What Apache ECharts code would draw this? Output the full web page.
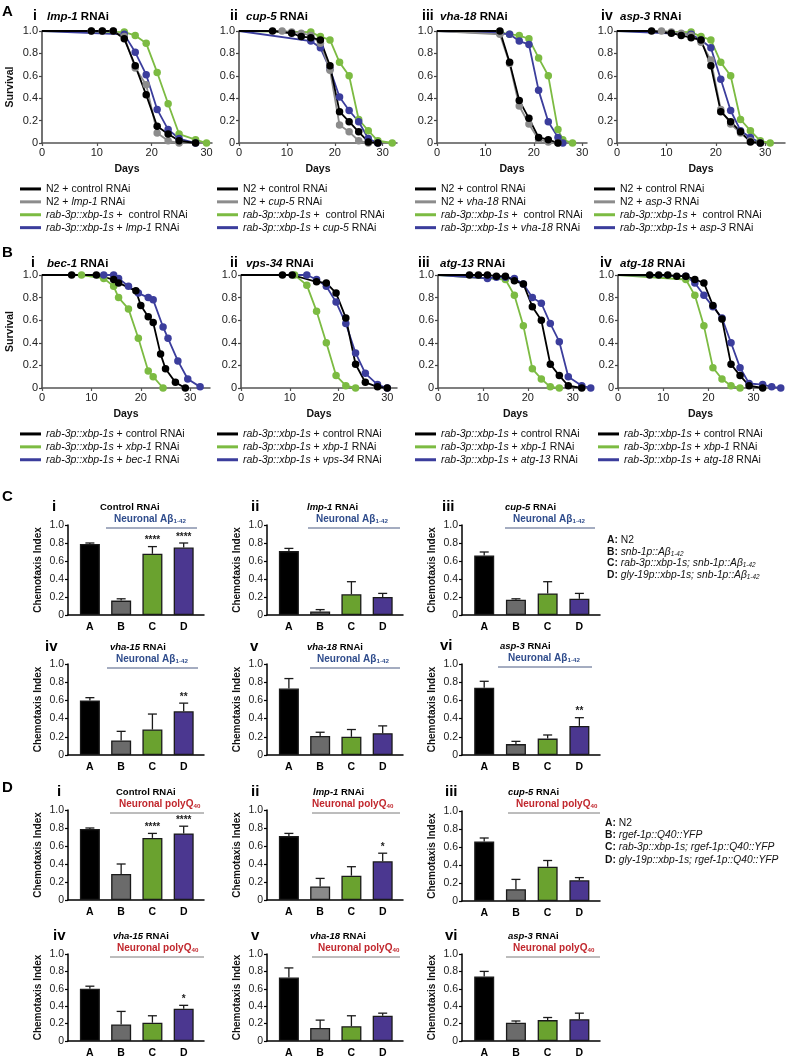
<!DOCTYPE html>
<html>
<head>
<meta charset="utf-8">
<title>xbp-1s survival and chemotaxis</title>
<script src="https://cdn.jsdelivr.net/npm/echarts@6.0.0/dist/echarts.min.js"></script>
<style>
  html, body { margin: 0; padding: 0; background: #fff; }
  #chart { width: 789px; height: 1059px; }
</style>
</head>
<body>
<div id="chart"></div>
<script>
var FONT = '"Liberation Sans", Arial, Helvetica, sans-serif';

// ---------- survival curves, [day, fraction alive] ----------
// A i  lmp-1
var Ai_n2Ctrl  = [[0,1],[9,1],[11,1],[13,1],[15,0.93],[17,0.69],[19,0.43],[21,0.15],[23,0.08],[25,0.02],[28,0]];
var Ai_n2Rnai  = [[0,1],[9,1],[11,1],[13,1],[15,0.95],[17,0.67],[19,0.52],[21,0.09],[23,0.02],[25,0]];
var Ai_xbpCtrl = [[0,1],[15,0.99],[17,0.96],[19,0.89],[21,0.63],[23,0.35],[25,0.08],[28,0.03],[30,0]];
var Ai_xbpRnai = [[0,1],[15,0.97],[17,0.81],[19,0.61],[21,0.30],[23,0.12],[25,0.04],[28,0]];
// A ii  cup-5
var Aii_n2Ctrl  = [[0,1],[7,1],[11,0.98],[13,0.95],[15,0.94],[17,0.92],[19,0.69],[21,0.28],[23,0.19],[25,0.10],[27,0.01],[29,0]];
var Aii_n2Rnai  = [[0,1],[9,1],[11,0.99],[13,0.98],[15,0.96],[17,0.89],[19,0.65],[21,0.16],[23,0.10],[25,0.02],[27,0]];
var Aii_xbpCtrl = [[0,1],[15,0.99],[17,0.95],[19,0.92],[21,0.72],[23,0.60],[25,0.21],[27,0.11],[29,0.02],[32,0]];
var Aii_xbpRnai = [[0,1],[15,0.91],[17,0.85],[19,0.66],[21,0.41],[23,0.29],[25,0.19],[27,0.04],[29,0]];
// A iii  vha-18
var Aiii_n2Ctrl  = [[0,1],[13,1],[15,0.72],[17,0.38],[19,0.22],[21,0.05],[23,0.03],[25,0]];
var Aiii_n2Rnai  = [[0,1],[13,0.97],[15,0.71],[17,0.33],[19,0.17],[21,0.03],[23,0.01],[25,0]];
var Aiii_xbpCtrl = [[0,1],[13,0.99],[15,0.97],[17,0.96],[19,0.93],[21,0.76],[23,0.60],[25,0.12],[26,0.03],[28,0]];
var Aiii_xbpRnai = [[0,1],[13,0.98],[15,0.97],[17,0.91],[19,0.88],[21,0.47],[23,0.19],[25,0.05],[26,0]];
// A iv  asp-3
var Aiv_n2Ctrl  = [[0,1],[7,1],[11,0.98],[13,0.96],[15,0.94],[17,0.92],[19,0.69],[21,0.28],[23,0.19],[25,0.10],[27,0.01],[29,0]];
var Aiv_n2Rnai  = [[0,1],[9,1],[11,0.99],[13,0.98],[15,0.96],[17,0.90],[19,0.74],[21,0.30],[23,0.17],[25,0.09],[27,0.02],[29,0]];
var Aiv_xbpCtrl = [[0,1],[15,0.99],[17,0.95],[19,0.92],[21,0.72],[23,0.60],[25,0.21],[27,0.11],[29,0.02],[31,0]];
var Aiv_xbpRnai = [[0,1],[15,0.97],[17,0.92],[19,0.85],[21,0.57],[23,0.29],[25,0.11],[27,0.05],[29,0]];

// B i  bec-1
var Bi_ctrl = [[0,1],[6,1],[11,1],[14.5,0.96],[15.5,0.93],[19,0.86],[20,0.73],[21.5,0.63],[22.5,0.58],[24,0.30],[25,0.17],[27,0.05],[29,0]];
var Bi_xbp1 = [[0,1],[8,1],[12.5,0.97],[14.5,0.90],[15.5,0.80],[17.5,0.70],[19.5,0.44],[21.5,0.15],[22.5,0.10],[24.5,0]];
var Bi_rnai = [[0,1],[12.5,1],[14.5,1],[15.5,0.97],[17.5,0.90],[19.5,0.84],[21.5,0.80],[22.5,0.78],[24.5,0.54],[25.5,0.44],[27.5,0.24],[29.5,0.08],[32,0.01]];
// B ii  vps-34
var Bii_ctrl = [[0,1],[8.5,1],[10.5,1],[15.5,0.94],[17.5,0.93],[19.5,0.84],[21.5,0.62],[23.5,0.21],[25.5,0.05],[28,0.01],[30,0]];
var Bii_xbp1 = [[0,1],[11,1],[13.5,0.91],[15.5,0.68],[17.5,0.40],[19.5,0.11],[21.5,0.02],[23.5,0]];
var Bii_rnai = [[0,1],[13.5,1],[15.5,0.96],[17.5,0.90],[19.5,0.76],[21.5,0.57],[23.5,0.31],[25.5,0.13],[28,0.03],[30,0]];
// B iii  atg-13
var Biii_ctrl = [[0,1],[7,1],[9,1],[11,1],[13,0.99],[15,0.99],[17,0.95],[19,0.92],[21,0.72],[23,0.60],[25,0.21],[27,0.11],[29,0.02],[32,0]];
var Biii_xbp1 = [[0,1],[15,0.96],[17,0.82],[19,0.55],[21,0.17],[23,0.08],[25,0.01],[27,0]];
var Biii_rnai = [[0,1],[11,0.97],[13,0.98],[15,0.98],[17,0.97],[19,0.92],[21,0.80],[23,0.75],[25,0.57],[27,0.41],[29,0.10],[32,0.02],[34,0]];
// B iv  atg-18
var Biv_ctrl = [[0,1],[7,1],[9,1],[11,1],[13,0.99],[15,0.99],[17,0.96],[19,0.93],[21,0.73],[23,0.61],[25,0.21],[27,0.11],[29,0.02],[32,0]];
var Biv_xbp1 = [[0,1],[15,0.96],[17,0.82],[19,0.55],[21,0.18],[23,0.08],[25,0.02],[27,0]];
var Biv_rnai = [[0,1],[15,0.99],[17,0.93],[19,0.82],[21,0.72],[23,0.62],[25,0.40],[27,0.18],[29,0.04],[32,0.03],[34,0.01],[36,0]];

var dayTicks = [0, 10, 20, 30];

// ---------- chemotaxis index, mean / SEM / significance ----------
var groups = ['A', 'B', 'C', 'D'];
var Ci_mean = [0.79, 0.16, 0.68, 0.75],  Ci_sem = [0.01, 0.02, 0.08, 0.05],  Ci_sig = ['', '', '****', '****'];
var Cii_mean = [0.71, 0.04, 0.23, 0.20], Cii_sem = [0.03, 0.02, 0.14, 0.04], Cii_sig = ['', '', '', ''];
var Ciii_mean = [0.66, 0.17, 0.24, 0.18], Ciii_sem = [0.04, 0.01, 0.13, 0.06], Ciii_sig = ['', '', '', ''];
var Civ_mean = [0.60, 0.16, 0.28, 0.48], Civ_sem = [0.03, 0.10, 0.17, 0.09], Civ_sig = ['', '', '', '**'];
var Cv_mean = [0.73, 0.21, 0.20, 0.24],  Cv_sem = [0.11, 0.04, 0.08, 0.08],  Cv_sig = ['', '', '', ''];
var Cvi_mean = [0.74, 0.12, 0.18, 0.32], Cvi_sem = [0.07, 0.03, 0.04, 0.09], Cvi_sig = ['', '', '', '**'];

var Di_mean = [0.79, 0.29, 0.69, 0.74],  Di_sem = [0.01, 0.11, 0.05, 0.08],  Di_sig = ['', '', '****', '****'];
var Dii_mean = [0.71, 0.15, 0.27, 0.43], Dii_sem = [0.03, 0.09, 0.10, 0.09], Dii_sig = ['', '', '', '*'];
var Diii_mean = [0.66, 0.13, 0.38, 0.23], Diii_sem = [0.04, 0.11, 0.07, 0.03], Diii_sig = ['', '', '', ''];
var Div_mean = [0.60, 0.19, 0.21, 0.37], Div_sem = [0.03, 0.15, 0.08, 0.04], Div_sig = ['', '', '', '*'];
var Dv_mean = [0.73, 0.15, 0.17, 0.29],  Dv_sem = [0.11, 0.09, 0.12, 0.03],  Dv_sig = ['', '', '', ''];
var Dvi_mean = [0.74, 0.21, 0.24, 0.25], Dvi_sem = [0.06, 0.02, 0.03, 0.07], Dvi_sig = ['', '', '', ''];

// ---------- styles ----------
var C_BLACK = '#000000', C_GRAY = '#8c8c8c', C_GREEN = '#7cbb42', C_BLUE = '#3b3d9c';
var BAR_COL = ['#000000', '#6b6b6b', '#6aa22f', '#4b3790'];
var AB_COL = '#2f4c8c', PQ_COL = '#c1272d';

var ITAL = /rab-3p::xbp-1s|xbp-1|lmp-1|cup-5|vha-18|asp-3|bec-1|vps-34|atg-13|atg-18/g;
function italicize(name) {
  return name.replace(ITAL, function (m) { return '{i|' + m + '}'; });
}

function tickFmt(v) { return v === 0 ? '0' : v.toFixed(1); }

function richSet(size, color) {
  function st(w, s, fs) {
    return { fontFamily: FONT, fontWeight: w, fontStyle: s, fontSize: fs, fill: color, color: color };
  }
  return {
    b: st('bold', 'normal', size),
    bi: st('bold', 'italic', size),
    n: st('normal', 'normal', size),
    it: st('normal', 'italic', size),
    sub: Object.assign(st('bold', 'normal', size * 0.62), { verticalAlign: 'bottom', lineHeight: size * 0.6 }),
    isub: Object.assign(st('normal', 'italic', size * 0.62), { verticalAlign: 'bottom', lineHeight: size * 0.6 })
  };
}

var grid = [], xAxis = [], yAxis = [], series = [], legend = [], graphic = [];

function text(x, y, str, size, color, align) {
  graphic.push({
    type: 'text', x: x, y: y, silent: true,
    style: {
      text: str, rich: richSet(size, color || '#000'),
      fontFamily: FONT, fontSize: size, fill: color || '#000',
      align: align || 'left', textAlign: align || 'left',
      verticalAlign: 'middle', textVerticalAlign: 'middle'
    }
  });
}

function hline(x0, x1, y, color) {
  graphic.push({ type: 'line', silent: true, shape: { x1: x0, y1: y, x2: x1, y2: y }, style: { stroke: color, lineWidth: 1 } });
}

// ---------- survival panels ----------
function survival(p) {
  var gi = grid.length;
  grid.push({ left: p.x, top: p.y, width: p.w, height: p.h });
  xAxis.push({
    gridIndex: gi, type: 'value', min: 0, max: p.xmax,
    name: 'Days', nameLocation: 'middle', nameGap: 21,
    nameTextStyle: { fontFamily: FONT, fontWeight: 'bold', fontSize: 10.5, color: '#111' },
    axisLine: { onZero: false, lineStyle: { color: '#555', width: 1.5 } },
    axisTick: { customValues: dayTicks, length: 3, lineStyle: { color: '#555', width: 1.2 } },
    axisLabel: { customValues: dayTicks, fontFamily: FONT, fontSize: 11, color: '#222', margin: 4 },
    splitLine: { show: false }
  });
  yAxis.push({
    gridIndex: gi, type: 'value', min: 0, max: 1, interval: 0.2,
    name: p.yname || '', nameLocation: 'middle', nameGap: 26,
    nameTextStyle: { fontFamily: FONT, fontWeight: 'bold', fontSize: 10.5, color: '#111' },
    axisLine: { show: true, onZero: false, lineStyle: { color: '#444', width: 1.5 } },
    axisTick: { show: true, length: 3, lineStyle: { color: '#444', width: 1.2 } },
    axisLabel: { formatter: tickFmt, fontFamily: FONT, fontSize: 11, color: '#222', margin: 4 },
    splitLine: { show: false }
  });
  // drawn back to front: green, blue, gray, black
  p.curves.forEach(function (c) {
    series.push({
      type: 'line', name: c.name, xAxisIndex: gi, yAxisIndex: gi,
      data: c.data.map(function (d, k) { return k === 0 ? { value: d, symbol: 'none' } : d; }),
      symbol: 'circle', symbolSize: 7.5, showSymbol: true,
      lineStyle: { color: c.color, width: 1.8 },
      itemStyle: { color: c.color },
      emphasis: { disabled: true }, silent: true
    });
  });
  legend.push({
    orient: 'vertical', left: p.legX, top: p.legY, padding: 0,
    itemWidth: 21, itemHeight: 3, itemGap: 0, icon: 'rect', selectedMode: false,
    data: p.legend, formatter: italicize,
    textStyle: {
      fontFamily: FONT, fontSize: 10.5, color: '#111', lineHeight: 12.9,
      rich: { i: { fontFamily: FONT, fontSize: 10.5, fontStyle: 'italic', color: '#111' } }
    }
  });
  text(p.numX, p.titleY - 1, '{b|' + p.num + '}', 14);
  text(p.titleX, p.titleY, '{bi|' + p.gene + '}{b| RNAi}', 11.5);
}

function panelA(x, w, xmax, gene, dat, num, numX, titleX, legX, yname) {
  var nCtrl = 'N2 + control RNAi', nR = 'N2 + ' + gene + ' RNAi';
  var xCtrl = 'rab-3p::xbp-1s +  control RNAi', xR = 'rab-3p::xbp-1s + ' + gene + ' RNAi';
  survival({
    x: x, y: 31, w: w, h: 112, xmax: xmax, yname: yname,
    curves: [
      { name: xCtrl, data: dat[2], color: C_GREEN },
      { name: xR, data: dat[3], color: C_BLUE },
      { name: nR, data: dat[1], color: C_GRAY },
      { name: nCtrl, data: dat[0], color: C_BLACK }
    ],
    legend: [nCtrl, nR, xCtrl, xR], legX: legX, legY: 182.5,
    num: num, numX: numX, titleX: titleX, titleY: 17, gene: gene
  });
}

function panelB(x, w, xmax, gene, dat, num, numX, titleX, legX, yname) {
  var ctrl = 'rab-3p::xbp-1s + control RNAi', xb = 'rab-3p::xbp-1s + xbp-1 RNAi', r = 'rab-3p::xbp-1s + ' + gene + ' RNAi';
  survival({
    x: x, y: 275, w: w, h: 113, xmax: xmax, yname: yname,
    curves: [
      { name: xb, data: dat[1], color: C_GREEN },
      { name: r, data: dat[2], color: C_BLUE },
      { name: ctrl, data: dat[0], color: C_BLACK }
    ],
    legend: [ctrl, xb, r], legX: legX, legY: 427.5,
    num: num, numX: numX, titleX: titleX, titleY: 264, gene: gene
  });
}

panelA(42, 170, 31, 'lmp-1', [Ai_n2Ctrl, Ai_n2Rnai, Ai_xbpCtrl, Ai_xbpRnai], 'i', 33, 47, 20, 'Survival');
panelA(239, 158, 33, 'cup-5', [Aii_n2Ctrl, Aii_n2Rnai, Aii_xbpCtrl, Aii_xbpRnai], 'ii', 230, 246, 217);
panelA(437, 150, 31, 'vha-18', [Aiii_n2Ctrl, Aiii_n2Rnai, Aiii_xbpCtrl, Aiii_xbpRnai], 'iii', 422, 440, 415);
panelA(617, 168, 34, 'asp-3', [Aiv_n2Ctrl, Aiv_n2Rnai, Aiv_xbpCtrl, Aiv_xbpRnai], 'iv', 601, 620, 594);

panelB(42, 168, 34, 'bec-1', [Bi_ctrl, Bi_xbp1, Bi_rnai], 'i', 31, 47, 20, 'Survival');
panelB(241, 156, 32, 'vps-34', [Bii_ctrl, Bii_xbp1, Bii_rnai], 'ii', 230, 246, 217);
panelB(438, 155, 34.5, 'atg-13', [Biii_ctrl, Biii_xbp1, Biii_rnai], 'iii', 418, 440, 415);
panelB(618, 165, 36.5, 'atg-18', [Biv_ctrl, Biv_xbp1, Biv_rnai], 'iv', 600, 620, 598);

// ---------- chemotaxis bar panels ----------
function bars(p) {
  var gi = grid.length;
  grid.push({ left: p.x, top: p.y, width: p.w, height: p.h });
  xAxis.push({
    gridIndex: gi, type: 'value', min: -0.7, max: 3.65,
    axisLine: { onZero: false, lineStyle: { color: '#000', width: 1.5 } },
    axisTick: { show: false },
    axisLabel: {
      customValues: [0, 1, 2, 3], formatter: function (v) { return groups[Math.round(v)]; },
      fontFamily: FONT, fontWeight: 'bold', fontSize: 10.5, color: '#000', margin: 7
    },
    splitLine: { show: false }
  });
  yAxis.push({
    gridIndex: gi, type: 'value', min: 0, max: 1, interval: 0.2,
    name: 'Chemotaxis Index', nameLocation: 'middle', nameGap: 25,
    nameTextStyle: { fontFamily: FONT, fontWeight: 'bold', fontSize: 10, color: '#111' },
    axisLine: { show: true, onZero: false, lineStyle: { color: '#000', width: 1.5 } },
    axisTick: { show: true, length: 3, lineStyle: { color: '#000', width: 1.2 } },
    axisLabel: { formatter: tickFmt, fontFamily: FONT, fontSize: 10.5, color: '#222', margin: 4 },
    splitLine: { show: false }
  });
  series.push({
    type: 'bar', xAxisIndex: gi, yAxisIndex: gi, barWidth: 20, silent: true,
    data: p.mean.map(function (m, i) {
      return { value: [i, m], itemStyle: { color: (i === 1 && p.bCol) ? p.bCol : BAR_COL[i], borderColor: '#1a1a1a', borderWidth: 1.3 } };
    })
  });
  var sig = p.sig;
  series.push({
    type: 'custom', xAxisIndex: gi, yAxisIndex: gi, silent: true, z: 5,
    data: p.mean.map(function (m, i) { return [i, m, p.sem[i]]; }),
    encode: { x: 0, y: 1 },
    renderItem: function (params, api) {
      var i = api.value(0), m = api.value(1), e = api.value(2);
      var lo = api.coord([i, m]), hi = api.coord([i, m + e]);
      var col = '#1a1a1a', cap = 4.5;
      var kids = [
        { type: 'line', shape: { x1: lo[0], y1: lo[1], x2: hi[0], y2: hi[1] }, style: { stroke: col, lineWidth: 1.3 } },
        { type: 'line', shape: { x1: hi[0] - cap, y1: hi[1], x2: hi[0] + cap, y2: hi[1] }, style: { stroke: col, lineWidth: 1.3 } }
      ];
      var s = sig[params.dataIndex];
      if (s) {
        kids.push({
          type: 'text', x: hi[0], y: hi[1] - 1,
          style: { text: s, fontFamily: FONT, fontWeight: 'bold', fontSize: 10, fill: '#222', align: 'center', verticalAlign: 'bottom' }
        });
      }
      return { type: 'group', children: kids };
    }
  });
  text(p.numX, p.tY, '{b|' + p.num + '}', 15);
  text(p.tX, p.tY, p.title, 9.5);
  var tagCol = p.pq ? PQ_COL : AB_COL;
  var tag = p.pq ? '{b|Neuronal polyQ}{sub|40}' : '{b|Neuronal Aβ}{sub|1-42}';
  text(p.tagX, p.tY + 12, tag, 10, tagCol);
  hline(p.l0, p.l1, p.tY + 21, p.pq ? '#7a7a7a' : '#4a5a82');
}

var BW = 136;
// panel C, neuronal Abeta
bars({ x: 68, y: 525, w: BW, h: 90, mean: Ci_mean, sem: Ci_sem, sig: Ci_sig, num: 'i', numX: 52, tY: 507,
  title: '{b|Control RNAi}', tX: 100, tagX: 114, l0: 106, l1: 197 });
bars({ x: 267, y: 525, w: BW, h: 90, mean: Cii_mean, sem: Cii_sem, sig: Cii_sig, num: 'ii', numX: 251, tY: 507,
  title: '{bi|lmp-1}{b| RNAi}', tX: 307, tagX: 316, l0: 308, l1: 400 });
bars({ x: 462, y: 525, w: 138, h: 90, mean: Ciii_mean, sem: Ciii_sem, sig: Ciii_sig, num: 'iii', numX: 442, tY: 507,
  title: '{bi|cup-5}{b| RNAi}', tX: 505, tagX: 513, l0: 505, l1: 595 });
bars({ x: 68, y: 664, w: BW, h: 91, mean: Civ_mean, sem: Civ_sem, sig: Civ_sig, num: 'iv', numX: 45, tY: 647,
  title: '{bi|vha-15}{b| RNAi}', tX: 110, tagX: 116, l0: 107, l1: 198 });
bars({ x: 267, y: 664, w: BW, h: 91, mean: Cv_mean, sem: Cv_sem, sig: Cv_sig, num: 'v', numX: 250, tY: 647,
  title: '{bi|vha-18}{b| RNAi}', tX: 307, tagX: 317, l0: 310, l1: 400 });
bars({ x: 462, y: 664, w: 138, h: 91, mean: Cvi_mean, sem: Cvi_sem, sig: Cvi_sig, num: 'vi', numX: 440, tY: 646,
  title: '{bi|asp-3}{b| RNAi}', tX: 500, tagX: 508, l0: 498, l1: 592 });

// panel D, neuronal polyQ40
bars({ x: 68, y: 810, w: BW, h: 90, mean: Di_mean, sem: Di_sem, sig: Di_sig, num: 'i', numX: 57, tY: 792, pq: true,
  title: '{b|Control RNAi}', tX: 116, tagX: 119, l0: 110, l1: 204 });
bars({ x: 267, y: 810, w: BW, h: 90, mean: Dii_mean, sem: Dii_sem, sig: Dii_sig, num: 'ii', numX: 251, tY: 792, pq: true, bCol: '#8a8a8a',
  title: '{bi|lmp-1}{b| RNAi}', tX: 313, tagX: 312, l0: 312, l1: 400 });
bars({ x: 462, y: 811, w: 138, h: 90, mean: Diii_mean, sem: Diii_sem, sig: Diii_sig, num: 'iii', numX: 445, tY: 792, pq: true,
  title: '{bi|cup-5}{b| RNAi}', tX: 508, tagX: 516, l0: 508, l1: 600 });
bars({ x: 68, y: 954, w: BW, h: 91, mean: Div_mean, sem: Div_sem, sig: Div_sig, num: 'iv', numX: 53, tY: 936, pq: true,
  title: '{bi|vha-15}{b| RNAi}', tX: 113, tagX: 117, l0: 110, l1: 204 });
bars({ x: 267, y: 954, w: BW, h: 91, mean: Dv_mean, sem: Dv_sem, sig: Dv_sig, num: 'v', numX: 251, tY: 936, pq: true,
  title: '{bi|vha-18}{b| RNAi}', tX: 310, tagX: 318, l0: 312, l1: 400 });
bars({ x: 462, y: 954, w: 138, h: 90, mean: Dvi_mean, sem: Dvi_sem, sig: Dvi_sig, num: 'vi', numX: 445, tY: 936, pq: true,
  title: '{bi|asp-3}{b| RNAi}', tX: 508, tagX: 513, l0: 506, l1: 600 });

// strain keys
var keyC = [
  '{b|A:} {n|N2}',
  '{b|B:} {it|snb-1p::Aβ}{isub|1-42}',
  '{b|C:} {it|rab-3p::xbp-1s; snb-1p::Aβ}{isub|1-42}',
  '{b|D:} {it|gly-19p::xbp-1s; snb-1p::Aβ}{isub|1-42}'
];
var keyD = [
  '{b|A:} {n|N2}',
  '{b|B:} {it|rgef-1p::Q40::YFP}',
  '{b|C:} {it|rab-3p::xbp-1s; rgef-1p::Q40::YFP}',
  '{b|D:} {it|gly-19p::xbp-1s; rgef-1p::Q40::YFP}'
];
keyC.forEach(function (s, k) { text(607, 540 + k * 11.8, s, 10.3, '#111'); });
keyD.forEach(function (s, k) { text(605, 823 + k * 12.3, s, 10.3, '#111'); });

// panel letters
text(2, 12, '{b|A}', 15);
text(2, 253, '{b|B}', 15);
text(2, 497, '{b|C}', 15);
text(2, 788, '{b|D}', 15);

var chart = echarts.init(document.getElementById('chart'), null, { renderer: 'canvas' });
chart.setOption({
  animation: false,
  backgroundColor: '#ffffff',
  textStyle: { fontFamily: FONT },
  grid: grid,
  xAxis: xAxis,
  yAxis: yAxis,
  legend: legend,
  series: series,
  graphic: graphic
});
</script>
</body>
</html>
